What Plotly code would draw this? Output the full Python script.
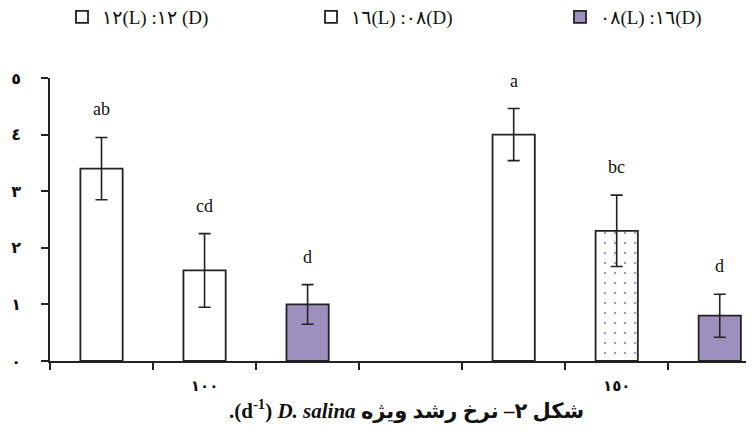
import plotly.graph_objects as go

# ---- data ----
categories = ["١٠٠", "١٥٠"]
series_names = ["١٢(L) :١٢ (D)", "١٦(L) :٠٨(D)", "٠٨(L) :١٦(D)"]
values_12_12 = [3.4, 4.0]
err_12_12 = [0.55, 0.46]
values_16_8 = [1.6, 2.3]
err_16_8 = [0.65, 0.63]
values_8_16 = [1.0, 0.8]
err_8_16 = [0.35, 0.38]
letters_12_12 = ["ab", "a"]
letters_16_8 = ["cd", "bc"]
letters_8_16 = ["d", "d"]
y_tick_values = [0, 1, 2, 3, 4, 5]
y_tick_labels = ["٠", "١", "٢", "٣", "٤", "٥"]
caption = ".(d<sup>-1</sup>) <b><i>D. salina</i></b> شکل ۲– نرخ رشد ویژه"

# ---- styling ----
PURPLE = "#9d8fbe"
LINE = "#222222"
SERIF = "Liberation Serif, DejaVu Sans"
slots_per_group = 4

series = [
    (series_names[0], values_12_12, err_12_12, letters_12_12, "white", ["", ""], "legend"),
    (series_names[1], values_16_8, err_16_8, letters_16_8, "white", ["", "."], "legend2"),
    (series_names[2], values_8_16, err_8_16, letters_8_16, PURPLE, ["", ""], "legend3"),
]

fig = go.Figure()
annotations = []
for s_idx, (name, vals, errs, letters, color, pat, leg) in enumerate(series):
    xs = [g * slots_per_group + s_idx for g in range(len(categories))]
    fig.add_trace(go.Bar(
        x=xs, y=vals, name=name, width=0.41, legend=leg, showlegend=True,
        marker=dict(color=color, line=dict(color=LINE, width=1.8),
                    pattern=dict(shape=pat, fgcolor="#34348a", bgcolor="white",
                                 size=10, solidity=0.05, fillmode="overlay")),
        error_y=dict(type="data", array=errs, visible=True, color=LINE,
                     thickness=1.6, width=6),
    ))
    for x, v, e, t in zip(xs, vals, errs, letters):
        annotations.append(dict(x=x, y=v + e, text=t, showarrow=False,
                                yanchor="middle", yshift=28,
                                font=dict(family=SERIF, size=18, color="#111")))

annotations.append(dict(xref="paper", yref="paper", x=0.50, y=-0.225,
                        text=caption, showarrow=False,
                        font=dict(family=SERIF, size=21, color="#111", weight="bold")))

boundaries = [i - 0.5 for i in range(2 * slots_per_group)]

legend_base = dict(orientation="h", xref="container", yref="container",
                   y=1 - 9 / 436, yanchor="middle", xanchor="left",
                   bgcolor="rgba(0,0,0,0)", borderwidth=0,
                   font=dict(family=SERIF, size=19, color="#111"))
fig.update_layout(
    width=754, height=436,
    margin=dict(l=42, r=0, t=70, b=83),
    paper_bgcolor="white", plot_bgcolor="white",
    barmode="overlay", showlegend=True,
    annotations=annotations,
    legend=dict(legend_base, x=54 / 754),
    legend2=dict(legend_base, x=303 / 754),
    legend3=dict(legend_base, x=552 / 754),
    xaxis=dict(range=[-0.5, 6.41], showgrid=False, zeroline=False,
               showline=True, linecolor=LINE, linewidth=1.6,
               tickmode="array",
               tickvals=[g * slots_per_group + 1 for g in range(len(categories))],
               ticktext=categories, ticks="", ticklabelstandoff=10,
               tickfont=dict(family="DejaVu Sans", size=15, color="#111", weight="bold"),
               minor=dict(tickvals=boundaries, ticks="outside", ticklen=7,
                          tickwidth=1.6, tickcolor=LINE, showgrid=False)),
    yaxis=dict(range=[0, 5], showgrid=False, zeroline=False,
               showline=True, linecolor=LINE, linewidth=1.6,
               tickmode="array", tickvals=y_tick_values, ticktext=y_tick_labels,
               ticks="outside", ticklen=7, tickwidth=1.6, tickcolor=LINE,
               ticklabelstandoff=17,
               tickfont=dict(family="DejaVu Sans", size=16, color="#111", weight="bold")),
)

fig.write_html("out.html")
